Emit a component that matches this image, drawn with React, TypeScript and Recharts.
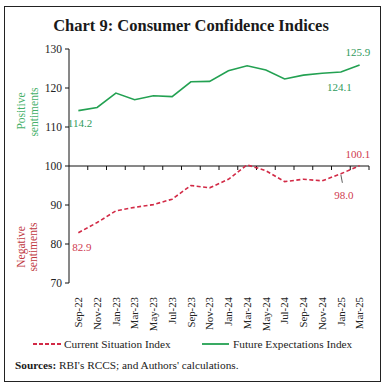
import React from 'react';
import { LineChart, Line, XAxis, YAxis, ReferenceLine, LabelList } from 'recharts';

const months = ['Sep-22', 'Nov-22', 'Jan-23', 'Mar-23', 'May-23', 'Jul-23', 'Sep-23', 'Nov-23', 'Jan-24', 'Mar-24', 'May-24', 'Jul-24', 'Sep-24', 'Nov-24', 'Jan-25', 'Mar-25'];
const currentSituation = [82.9, 85.5, 88.5, 89.4, 90.1, 91.5, 95.0, 94.4, 96.6, 100.3, 98.8, 96.0, 96.6, 96.2, 98.0, 100.1];
const futureExpectations = [114.2, 115.0, 118.7, 117.0, 118.0, 117.8, 121.6, 121.7, 124.4, 125.7, 124.6, 122.3, 123.3, 123.8, 124.1, 125.9];
const yTicks = [70, 80, 90, 100, 110, 120, 130];
const labelledIndices = [0, 14, 15];

const data = months.map((m, i) => ({ month: m, csi: currentSituation[i], fei: futureExpectations[i] }));

const FONT = '"Liberation Serif", "Times New Roman", serif';
const GREEN = '#23a152';
const GREEN_TXT = '#2f9a5c';
const RED = '#d22a46';
const RED_TXT = '#cf3a4f';

const feiOffsets: Record<number, [number, number]> = { 0: [1.6, 12], 14: [-1.4, 15], 15: [-1.7, -13] };
const csiOffsets: Record<number, [number, number]> = { 0: [3.6, 14], 14: [3, 21], 15: [-1.7, -12] };

const makeLabel = (offsets: Record<number, [number, number]>, color: string, leader: number | null) => (props: any) => {
  const { x, y, value, index } = props;
  if (!labelledIndices.includes(index) || !offsets[index]) return null;
  const [dx, dy] = offsets[index];
  return (
    <g>
      {leader === index && (
        <line x1={x} y1={y + 1} x2={x + 1.5} y2={y + 9} stroke="#333" strokeWidth={0.8} />
      )}
      <text x={x + dx} y={y + dy} textAnchor="middle" dominantBaseline="central" fontSize={11} fontFamily={FONT} fill={color}>
        {Number(value).toFixed(1)}
      </text>
    </g>
  );
};

const XTick = (props: any) => {
  const { x, y, payload } = props;
  return (
    <text x={x} y={y} transform={`rotate(-90, ${x}, ${y})`} textAnchor="end" dy="0.35em" fontSize={10.8} fontFamily={FONT} fill="#222">
      {payload.value}
    </text>
  );
};

const AxisAt100 = (props: any) => {
  const { x1, x2, y1 } = props;
  const n = months.length;
  const step = (x2 - x1) / n;
  const ticks = [];
  for (let i = 1; i <= n; i++) {
    const tx = x1 + i * step;
    ticks.push(<line key={i} x1={tx} y1={y1} x2={tx} y2={y1 + 4} stroke="#111" strokeWidth={1} />);
  }
  return (
    <g>
      <line x1={x1} y1={y1} x2={x2} y2={y1} stroke="#111" strokeWidth={1} />
      {ticks}
    </g>
  );
};

export default function App() {
  return (
    <div style={{ position: 'absolute', left: 0, top: 0, width: 384, height: 388, background: '#fff', fontFamily: FONT }}>
      <div style={{ position: 'absolute', left: 4, top: 6, width: 375, height: 374, border: '1px solid #222' }} />
      <div style={{ position: 'absolute', left: 0, top: 0 }}>
        <LineChart width={384} height={388} data={data} margin={{ top: 49, right: 15, bottom: 65, left: 19 }}>
          <XAxis
            dataKey="month"
            interval={0}
            padding={{ left: 9.375, right: 9.375 }}
            axisLine={false}
            tickLine={false}
            tickSize={0}
            tickMargin={14}
            height={40}
            tick={<XTick />}
          />
          <YAxis
            domain={[70, 130]}
            ticks={yTicks}
            width={50}
            tickSize={4}
            tickMargin={3}
            axisLine={{ stroke: '#111' }}
            tickLine={{ stroke: '#111' }}
            tick={{ fontSize: 11.5, fontFamily: FONT, fill: '#222' }}
          />
          <ReferenceLine y={100} shape={<AxisAt100 />} />
          <Line type="linear" dataKey="fei" stroke={GREEN} strokeWidth={1.6} dot={false} isAnimationActive={false}>
            <LabelList dataKey="fei" content={makeLabel(feiOffsets, GREEN_TXT, null)} />
          </Line>
          <Line type="linear" dataKey="csi" stroke={RED} strokeWidth={1.6} strokeDasharray="4 2.5" dot={false} isAnimationActive={false}>
            <LabelList dataKey="csi" content={makeLabel(csiOffsets, RED_TXT, 14)} />
          </Line>
        </LineChart>
      </div>
      <svg width={384} height={388} style={{ position: 'absolute', left: 0, top: 0, pointerEvents: 'none' }}>
        <text x={191} y={31} textAnchor="middle" fontSize={16.5} fontWeight="bold" fontFamily={FONT} fill="#1a1a1a">
          Chart 9: Consumer Confidence Indices
        </text>
        <g fontSize={11.5} fontFamily={FONT} fill="#45b069" textAnchor="middle" dominantBaseline="central">
          <text x={21} y={111} transform="rotate(-90, 21, 111)">Positive</text>
          <text x={33.5} y={112} transform="rotate(-90, 33.5, 112)">sentiments</text>
        </g>
        <g fontSize={11.5} fontFamily={FONT} fill="#c0393f" textAnchor="middle" dominantBaseline="central">
          <text x={21} y={247} transform="rotate(-90, 21, 247)">Negative</text>
          <text x={33} y={247} transform="rotate(-90, 33, 247)">sentiments</text>
        </g>
        <line x1={33} y1={344} x2={61} y2={344} stroke={RED} strokeWidth={1.8} strokeDasharray="4 2" />
        <text x={64} y={347.8} fontSize={11.3} fontFamily={FONT} fill="#222">Current Situation Index</text>
        <line x1={202} y1={344} x2={229} y2={344} stroke={GREEN} strokeWidth={1.8} />
        <text x={233} y={347.8} fontSize={11.3} fontFamily={FONT} fill="#222">Future Expectations Index</text>
        <text x={15} y={368.8} fontSize={11.3} fontFamily={FONT} fill="#1a1a1a">
          <tspan fontWeight="bold">Sources:</tspan>
          <tspan> RBI's RCCS; and Authors' calculations.</tspan>
        </text>
      </svg>
    </div>
  );
}
